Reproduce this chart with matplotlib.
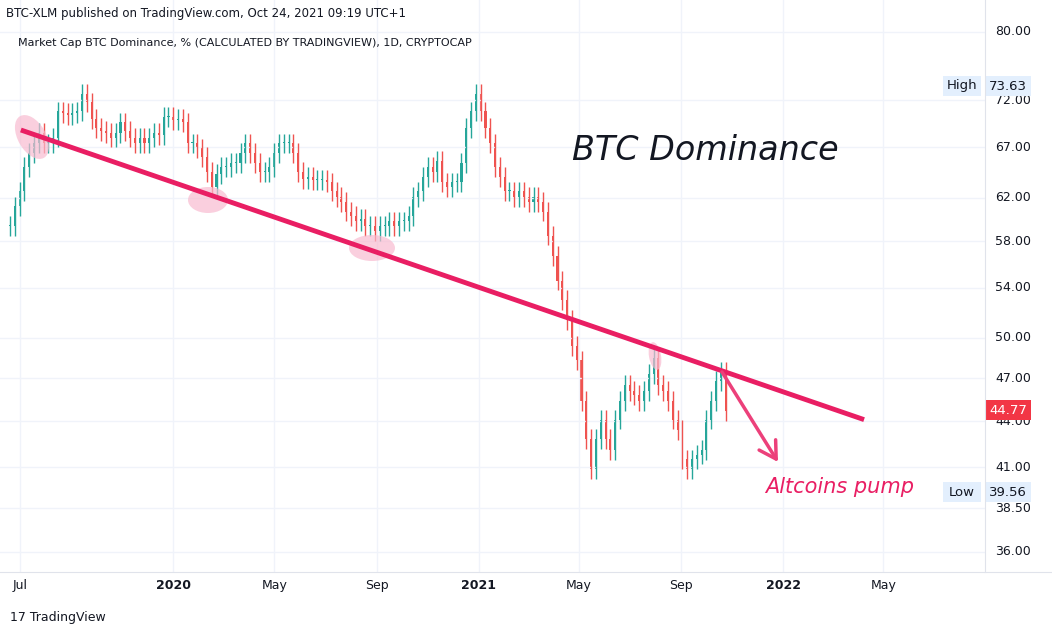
import matplotlib
matplotlib.use("Agg")
import matplotlib.pyplot as plt
from matplotlib.patches import Ellipse, FancyArrowPatch
import pandas as pd

closes = [59.4,61.2,62.6,65.0,66.4,67.4,68.5,67.4,67.4,68.0,70.8,70.6,70.4,70.6,70.8,72.7,71.8,70.0,69.0,68.7,68.5,68.0,68.5,69.6,68.7,68.0,67.4,68.0,67.4,68.0,68.5,68.3,70.2,70.2,69.9,70.0,
          69.6,67.4,67.4,66.9,66.0,64.5,63.0,64.3,65.0,65.0,65.4,65.4,66.4,67.4,66.4,65.4,64.5,64.5,65.0,66.4,67.4,67.4,67.4,66.4,64.5,63.8,64.0,63.7,63.7,63.7,63.5,62.6,62.1,61.6,
          60.7,60.3,59.8,60.0,59.4,59.4,58.9,59.4,59.4,59.8,59.4,59.8,59.8,60.3,62.1,62.6,64.0,65.0,64.5,65.6,63.5,63.0,63.5,63.5,65.4,69.0,70.8,72.7,70.8,69.0,67.4,65.0,64.0,62.6,62.6,
          62.1,62.6,62.1,61.6,62.1,61.6,60.7,58.5,56.7,54.6,53.0,51.4,49.4,48.3,45.4,42.8,40.9,42.8,44.1,42.8,42.1,44.1,45.4,46.5,46.1,45.8,45.4,46.1,47.3,48.5,46.5,46.1,45.4,44.1,43.4,
          41.5,40.9,41.5,41.8,42.1,44.1,45.4,46.8,47.5,44.7]
start_date = "2019-06-19"
end_date = "2021-10-24"
y_ticks = [36.00,38.50,41.00,44.00,47.00,50.00,54.00,58.00,62.00,67.00,72.00,80.00]
x_tick_dates = ["2019-07-01","2020-01-01","2020-05-01","2020-09-01","2021-01-01","2021-05-01","2021-09-01","2022-01-01","2022-05-01"]
x_tick_labels = ["Jul","2020","May","Sep","2021","May","Sep","2022","May"]
trend_dates = ["2019-07-02","2022-04-08"]
trend_vals = [68.8,44.1]

dates = pd.date_range(start_date, end_date, periods=len(closes))
fig = plt.figure(figsize=(10.52,6.35), dpi=100)
ax = fig.add_axes([0, 63/635, 985/1052, 572/635])
ax.set_yscale("log")
ax.set_ylim(34.9, 84.0)
ax.set_xlim(pd.Timestamp("2019-06-07"), pd.Timestamp("2022-08-31"))
up, dn = "#26a69a", "#ef5350"
opens = [closes[0]] + closes[:-1]
for d, o, c in zip(dates, opens, closes):
    col = up if c >= o else dn
    lo, hi = min(o, c), max(o, c)
    ax.vlines(d, lo*0.985, hi*1.015, color=col, lw=1)
    ax.bar(d, hi-lo if hi-lo > 0.05 else 0.1, bottom=lo, width=2.5, color=col, lw=0)
ax.plot(pd.to_datetime(trend_dates), trend_vals, color="#e91e63", lw=3.5, solid_capstyle="butt", zorder=5)

ax.set_yticks(y_ticks)
ax.yaxis.set_minor_locator(matplotlib.ticker.NullLocator())
ax.set_xticks(pd.to_datetime(x_tick_dates))
ax.grid(True, color="#f0f3fa", lw=1)
ax.tick_params(left=False, right=False, bottom=False, labelleft=False, labelbottom=False)
for s in ax.spines.values():
    s.set_visible(False)
for v in y_ticks:
    ax.annotate(f"{v:.2f}", xy=(1.0, v), xycoords=("axes fraction","data"), xytext=(1013, 0),
                textcoords=("figure pixels","offset points"), ha="center", va="center", fontsize=9, color="#131722")
for d, l in zip(x_tick_dates, x_tick_labels):
    ax.annotate(l, xy=(pd.Timestamp(d), 0), xycoords=("data","axes fraction"), xytext=(0,-10),
                textcoords="offset points", ha="center", va="center", fontsize=9, color="#131722",
                fontweight="bold" if l.isdigit() else "normal")

def fp(x, y):
    return (x, 635 - y)
for (x, y, w, h, a) in [(32,137,28,48,30),(208,200,40,26,0),(372,248,46,26,0),(655,356,12,28,10)]:
    e = Ellipse(fp(x, y), w, h, angle=a, transform=None, facecolor="#f8bbd0", alpha=0.7, edgecolor="none", zorder=4)
    ax.add_artist(e)
arr = FancyArrowPatch(fp(722, 372), fp(778, 462), transform=None,
                      color="#ec407a", lw=2.5, mutation_scale=10, shrinkA=0, shrinkB=0, zorder=6)
arr.set_arrowstyle("->", head_length=1.2, head_width=0.7)
ax.add_artist(arr)
fig.text(572/1052, 1-150/635, "BTC Dominance", fontsize=24, style="italic", color="#131722", va="center")
fig.text(765/1052, 1-487/635, "Altcoins pump", fontsize=15, style="italic", color="#e91e63", va="center")
fig.text(6/1052, 1-13/635, "BTC-XLM published on TradingView.com, Oct 24, 2021 09:19 UTC+1", fontsize=8.5, color="#131722", va="center")
fig.text(18/1052, 1-43/635, "Market Cap BTC Dominance, % (CALCULATED BY TRADINGVIEW), 1D, CRYPTOCAP", fontsize=8, color="#131722", va="center")
fig.text(10/1052, 1-617/635, "17 TradingView", fontsize=9, color="#131722", va="center")
fig.add_artist(plt.Line2D([0.0, 1.0], [63/635, 63/635], color="#e0e3eb", lw=0.8))
fig.add_artist(plt.Line2D([985/1052, 985/1052], [63/635, 1], color="#e0e3eb", lw=0.8))
def box(x, y, w, h, fc, txt, tc):
    fig.patches.append(matplotlib.patches.Rectangle(((x)/1052, 1-(y+h/2)/635), w/1052, h/635,
                       transform=fig.transFigure, facecolor=fc, edgecolor="none"))
    fig.text((x+w/2)/1052, 1-y/635, txt, fontsize=9.5, color=tc, ha="center", va="center")
box(943, 86, 38, 20, "#e3effd", "High", "#131722")
box(985, 86, 46, 20, "#e3effd", "73.63", "#131722")
box(943, 492, 38, 20, "#e3effd", "Low", "#131722")
box(985, 492, 46, 20, "#e3effd", "39.56", "#131722")
box(985, 410, 46, 20, "#f23645", "44.77", "white")
fig.savefig("out.png", dpi=100)
